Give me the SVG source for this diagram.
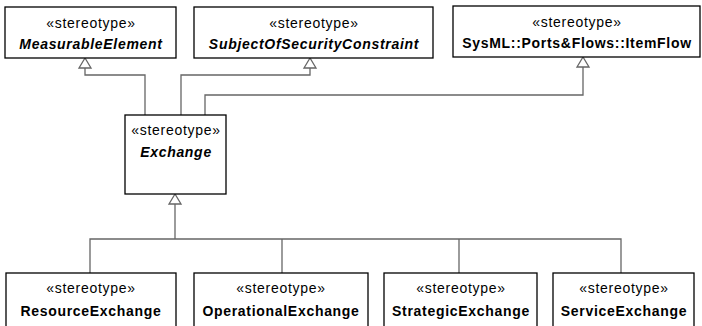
<svg xmlns="http://www.w3.org/2000/svg" width="702" height="326" viewBox="0 0 702 326">
<style>
.box{fill:#fff;stroke:#000;stroke-width:1.3}
.st{font-family:"Liberation Sans",Arial,sans-serif;font-size:14px;letter-spacing:0.7px;text-anchor:middle;fill:#000}
.nm{font-family:"Liberation Sans",Arial,sans-serif;font-size:14px;letter-spacing:0.7px;font-weight:bold;text-anchor:middle;fill:#000}
.it{font-style:italic}
.ln{fill:none;stroke:#666;stroke-width:1.3}
.ah{fill:#fff;stroke:#666;stroke-width:1.3}
</style>
<rect width="702" height="326" fill="#fff"/>
<g id="connectors">
<polyline class="ln" points="145,115 145,75 85,75 85,68"/>
<polygon class="ah" points="85,58 79,68 91,68"/>
<polyline class="ln" points="181,115 181,75 310,75 310,68"/>
<polygon class="ah" points="310,58 304,68 316,68"/>
<polyline class="ln" points="205,115 205,95 583,95 583,67"/>
<polygon class="ah" points="583,57 577,67 589,67"/>
<polyline class="ln" points="175,204 175,239"/>
<polygon class="ah" points="175,194 169,204 181,204"/>
<polyline class="ln" points="90,273 90,239 621,239 621,273"/>
<line class="ln" x1="282" y1="239" x2="282" y2="273"/>
<line class="ln" x1="459" y1="239" x2="459" y2="273"/>
</g>
<g id="MeasurableElement">
<rect class="box" x="5" y="7" width="171" height="51"/>
<text class="st" x="91" y="28">«stereotype»</text>
<text class="nm it" x="91" y="49">MeasurableElement</text>
</g>
<g id="SubjectOfSecurityConstraint">
<rect class="box" x="194" y="7" width="239" height="51"/>
<text class="st" x="314" y="28">«stereotype»</text>
<text class="nm it" x="314" y="49">SubjectOfSecurityConstraint</text>
</g>
<g id="ItemFlow">
<rect class="box" x="453" y="6" width="247" height="51"/>
<text class="st" x="577" y="27">«stereotype»</text>
<text class="nm" x="577" y="48">SysML::Ports&amp;Flows::ItemFlow</text>
</g>
<g id="Exchange">
<rect class="box" x="125" y="115" width="101" height="79"/>
<text class="st" x="176" y="135">«stereotype»</text>
<text class="nm it" x="176" y="157">Exchange</text>
</g>
<g id="ResourceExchange">
<rect class="box" x="6" y="273" width="170" height="60"/>
<text class="st" x="91" y="293">«stereotype»</text>
<text class="nm" x="91" y="316">ResourceExchange</text>
</g>
<g id="OperationalExchange">
<rect class="box" x="194" y="273" width="174" height="60"/>
<text class="st" x="281" y="293">«stereotype»</text>
<text class="nm" x="281" y="316">OperationalExchange</text>
</g>
<g id="StrategicExchange">
<rect class="box" x="384" y="273" width="153" height="60"/>
<text class="st" x="461" y="293">«stereotype»</text>
<text class="nm" x="461" y="316">StrategicExchange</text>
</g>
<g id="ServiceExchange">
<rect class="box" x="553" y="273" width="141" height="60"/>
<text class="st" x="624" y="293">«stereotype»</text>
<text class="nm" x="624" y="316">ServiceExchange</text>
</g>
</svg>
